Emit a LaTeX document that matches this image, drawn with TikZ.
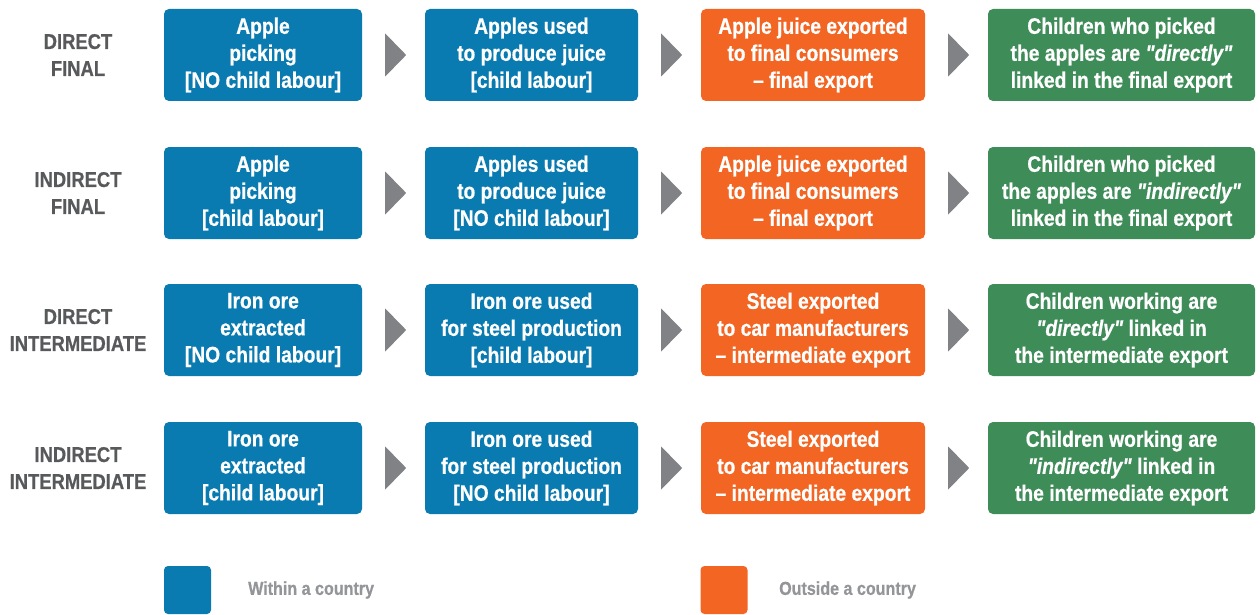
\documentclass[tikz,border=0pt]{standalone}
\usepackage{fontspec}
\setmainfont{Liberation Sans}[FakeStretch=0.86, Ligatures=TeXOff, FakeBold=0.6]
\definecolor{cblue}{HTML}{0A7BB0}
\definecolor{corange}{HTML}{F26522}
\definecolor{cgreen}{HTML}{3E8C58}
\definecolor{carrow}{HTML}{808285}
\definecolor{clabel}{HTML}{58595B}
\definecolor{clegend}{HTML}{939598}
\begin{document}
\begin{tikzpicture}[x=1pt,y=-1pt,
  box/.style={rounded corners=5pt, minimum height=92pt, inner sep=0pt, align=center,
    text=white, font=\fontsize{22.4}{27}\selectfont\bfseries},
  bl/.style={box, fill=cblue},
  og/.style={box, fill=corange},
  gr/.style={box, fill=cgreen},
  w1/.style={minimum width=198pt},
  w2/.style={minimum width=213pt},
  w3/.style={minimum width=224pt},
  w4/.style={minimum width=267pt},
  rowlab/.style={align=center, text=clabel, font=\fontsize{21.4}{27}\selectfont\bfseries},
  legbox/.style={rounded corners=4pt, minimum width=47pt, minimum height=48pt, inner sep=0pt},
  legtext/.style={anchor=west, text=clegend, font=\fontsize{18.7}{20}\selectfont\bfseries, inner sep=0pt},
  tri/.style={fill=carrow}
]
\useasboundingbox (0,0) rectangle (1260,615);

% Row 1
\node[rowlab] (l1) at (78,55) {DIRECT\\FINAL};
\node[bl,w1] (a1) at (263,55) {Apple\\picking\\{[}NO child labour{]}};
\node[bl,w2] (b1) at (531.5,55) {Apples used\\to produce juice\\{[}child labour{]}};
\node[og,w3] (c1) at (813,55) {Apple juice exported\\to final consumers\\– final export};
\node[gr,w4] (d1) at (1121.5,55) {Children who picked\\the apples are \textit{"directly"}\\linked in the final export};

% Row 2
\node[rowlab] (l2) at (78,193) {INDIRECT\\FINAL};
\node[bl,w1] (a2) at (263,193) {Apple\\picking\\{[}child labour{]}};
\node[bl,w2] (b2) at (531.5,193) {Apples used\\to produce juice\\{[}NO child labour{]}};
\node[og,w3] (c2) at (813,193) {Apple juice exported\\to final consumers\\– final export};
\node[gr,w4] (d2) at (1121.5,193) {Children who picked\\the apples are \textit{"indirectly"}\\linked in the final export};

% Row 3
\node[rowlab] (l3) at (78,330) {DIRECT\\INTERMEDIATE};
\node[bl,w1] (a3) at (263,330) {Iron ore\\extracted\\{[}NO child labour{]}};
\node[bl,w2] (b3) at (531.5,330) {Iron ore used\\for steel production\\{[}child labour{]}};
\node[og,w3] (c3) at (813,330) {Steel exported\\to car manufacturers\\– intermediate export};
\node[gr,w4] (d3) at (1121.5,330) {Children working are\\\textit{"directly"} linked in\\the intermediate export};

% Row 4
\node[rowlab] (l4) at (78,468) {INDIRECT\\INTERMEDIATE};
\node[bl,w1] (a4) at (263,468) {Iron ore\\extracted\\{[}child labour{]}};
\node[bl,w2] (b4) at (531.5,468) {Iron ore used\\for steel production\\{[}NO child labour{]}};
\node[og,w3] (c4) at (813,468) {Steel exported\\to car manufacturers\\– intermediate export};
\node[gr,w4] (d4) at (1121.5,468) {Children working are\\\textit{"indirectly"} linked in\\the intermediate export};

% Arrows
\foreach \r in {1,2,3,4}{
  \foreach \s in {a,b,c}{
    \fill[tri] (\s\r.east) ++(23,-21.5) -- ++(21,21.5) -- ++(-21,21.5) -- cycle;
  }
}

% Legend
\node[legbox, fill=cblue] (lb) at (187.5,590) {};
\node[legtext] (lbt) at (248,590) {Within a country};
\node[legbox, fill=corange] (lo) at (724,590) {};
\node[legtext] (lot) at (779,590) {Outside a country};
\end{tikzpicture}
\end{document}
